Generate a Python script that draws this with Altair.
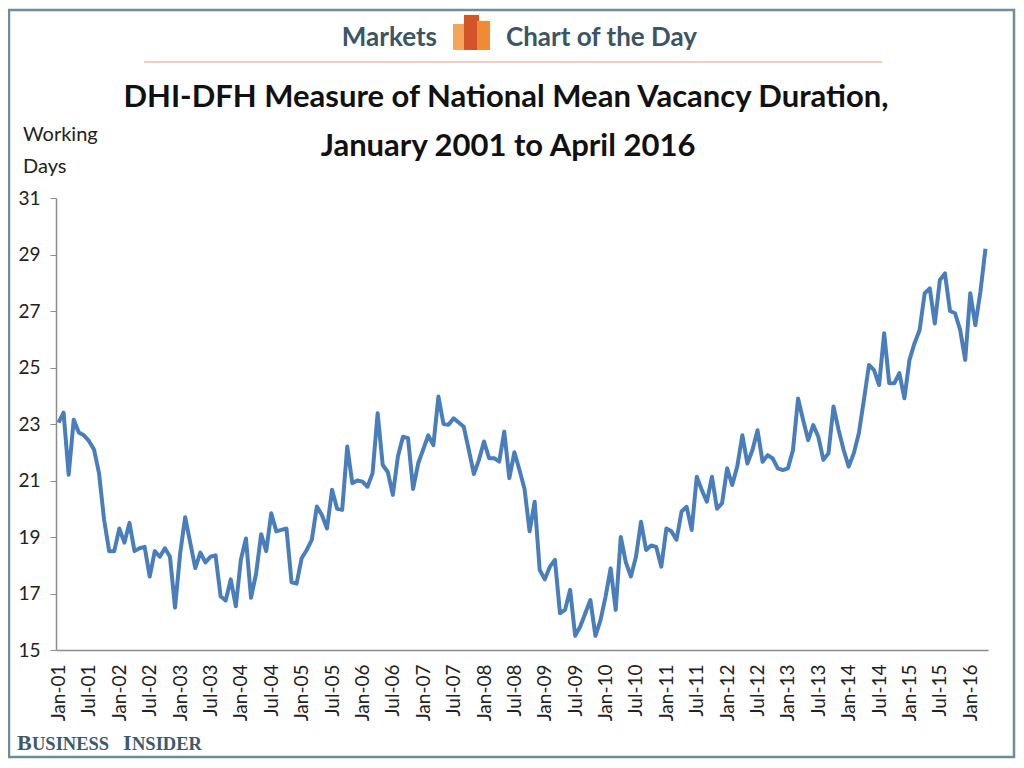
import altair as alt
import pandas as pd

MONTHS = ["Jan", "Feb", "Mar", "Apr", "May", "Jun", "Jul", "Aug", "Sep", "Oct", "Nov", "Dec"]
categories = [f"{MONTHS[m]}-{str(y)[2:]}" for y in range(2001, 2017) for m in range(12)][:184]
tick_labels = [c for c in categories if c.startswith("Jan") or c.startswith("Jul")]

# Working days, monthly, Jan-01 .. Apr-16
v_2001_2003 = [23.05, 23.4, 21.2, 23.15, 22.7, 22.6, 22.4, 22.1, 21.25, 19.6, 18.5, 18.5,
               19.3, 18.8, 19.5, 18.5, 18.6, 18.65, 17.6, 18.5, 18.3, 18.6, 18.3, 16.5,
               18.4, 19.7, 18.8, 17.9, 18.45, 18.1, 18.3, 18.35, 16.9, 16.75, 17.5, 16.55]
v_2004_2006 = [18.2, 18.95, 16.85, 17.7, 19.1, 18.5, 19.84, 19.2, 19.25, 19.3, 17.4, 17.35,
               18.25, 18.54, 18.9, 20.08, 19.78, 19.3, 20.67, 20.0, 19.96, 22.2, 20.9, 21.0,
               20.96, 20.78, 21.26, 23.38, 21.55, 21.3, 20.49, 21.85, 22.55, 22.5, 20.7, 21.6]
v_2007_2009 = [22.1, 22.6, 22.25, 23.97, 23.0, 22.97, 23.2, 23.05, 22.9, 22.08, 21.23, 21.73,
               22.38, 21.79, 21.79, 21.67, 22.73, 21.08, 22.0, 21.37, 20.7, 19.2, 20.25, 17.83,
               17.5, 17.95, 18.19, 16.3, 16.42, 17.13, 15.5, 15.83, 16.3, 16.77, 15.5, 16.06]
v_2010_2012 = [16.89, 17.89, 16.42, 19.0, 18.1, 17.6, 18.3, 19.54, 18.54, 18.7, 18.65, 17.95,
               19.3, 19.2, 18.9, 19.9, 20.07, 19.25, 21.13, 20.66, 20.25, 21.13, 20.0, 20.2,
               21.43, 20.84, 21.5, 22.6, 21.6, 22.08, 22.78, 21.66, 21.9, 21.78, 21.43, 21.37]
v_2013_2016 = [21.43, 22.08, 23.9, 23.14, 22.43, 22.96, 22.55, 21.73, 21.96, 23.62, 22.79, 22.08,
               21.49, 21.96, 22.67, 23.85, 25.09, 24.91, 24.38, 26.21, 24.44, 24.44, 24.8, 23.91,
               25.27, 25.86, 26.33, 27.63, 27.8, 26.56, 28.1, 28.33, 27.0, 26.92, 26.33, 25.27,
               27.63, 26.5, 27.68, 29.2]
values = v_2001_2003 + v_2004_2006 + v_2007_2009 + v_2010_2012 + v_2013_2016

df = pd.DataFrame({"month": categories, "days": values})

line = alt.Chart(df).mark_line(color="#4a7ebb", strokeWidth=4, strokeJoin="round").encode(
    x=alt.X("month:O", sort=categories,
            scale=alt.Scale(type="point", padding=0.5),
            axis=alt.Axis(values=tick_labels, labelAngle=-90, ticks=False, labelPadding=14,
                          title=None, domainColor="#8c8c8c", domainWidth=1.5,
                          labelFont="Lato", labelFontSize=19, labelColor="#222222")),
    y=alt.Y("days:Q", scale=alt.Scale(domain=[15, 31], nice=False, zero=False),
            axis=alt.Axis(values=list(range(15, 32, 2)), title=None, grid=False,
                          tickSize=6, tickColor="#8c8c8c", domainColor="#8c8c8c", domainWidth=1.5,
                          labelPadding=10, labelFont="Lato", labelFontSize=19, labelColor="#222222")),
)

one = pd.DataFrame({"k": [0]})

def txt(s, x, y, size, color="#111111", weight="normal", align="center", font="Lato",
        baseline="middle"):
    return alt.Chart(one).mark_text(text=s, fontSize=size, fontWeight=weight, align=align,
                                    baseline=baseline, font=font, color=color).encode(
        x=alt.value(x), y=alt.value(y))

def box(x, x2, y, y2, fill=None, stroke=None, sw=0):
    kw = {}
    if fill is not None:
        kw["fill"] = fill
    else:
        kw["fillOpacity"] = 0
    if stroke is not None:
        kw["stroke"] = stroke
        kw["strokeWidth"] = sw
    return alt.Chart(one).mark_rect(**kw).encode(
        x=alt.value(x), x2=alt.value(x2), y=alt.value(y), y2=alt.value(y2))

header_color = "#3b5564"
bi_color = "#3d5a6c"
bi_font = "Liberation Serif"
layers = [
    box(-47, 958, -188, 559, stroke="#6f8c9a", sw=2.5),
    txt("Markets", 381, -160, 26, header_color, "bold", "right"),
    txt("Chart of the Day", 450, -160, 26, header_color, "bold", "left"),
    box(397, 410, -174, -148, fill="#f5a45c"),
    box(408, 423, -183, -148, fill="#d4542a"),
    box(421, 434, -177, -148, fill="#f08a35"),
    alt.Chart(one).mark_rule(color="#f2bba9", strokeWidth=1.5).encode(
        x=alt.value(88), x2=alt.value(826), y=alt.value(-136)),
    txt("DHI-DFH Measure of National Mean Vacancy Duration,", 450, -100, 31, "#111111", "bold"),
    txt("January 2001 to April 2016", 452, -51, 31, "#111111", "bold"),
    txt("Working", -33, -63, 20, "#222222", "normal", "left"),
    txt("Days", -33, -31, 20, "#222222", "normal", "left"),
    txt("B", -39, 552, 22, bi_color, "bold", "left", bi_font, "alphabetic"),
    txt("USINESS", -24, 552, 18.5, bi_color, "bold", "left", bi_font, "alphabetic"),
    txt("I", 67, 552, 22, bi_color, "bold", "left", bi_font, "alphabetic"),
    txt("NSIDER", 76, 552, 18.5, bi_color, "bold", "left", bi_font, "alphabetic"),
]

chart = alt.layer(line, *layers).properties(
    width=932, height=452,
    autosize=alt.AutoSizeParams(type="none"),
    padding={"left": 48, "top": 190, "right": 28, "bottom": 110},
).configure_view(strokeWidth=0)

chart.save("out.html", embed_options={"renderer": "svg", "actions": False})
